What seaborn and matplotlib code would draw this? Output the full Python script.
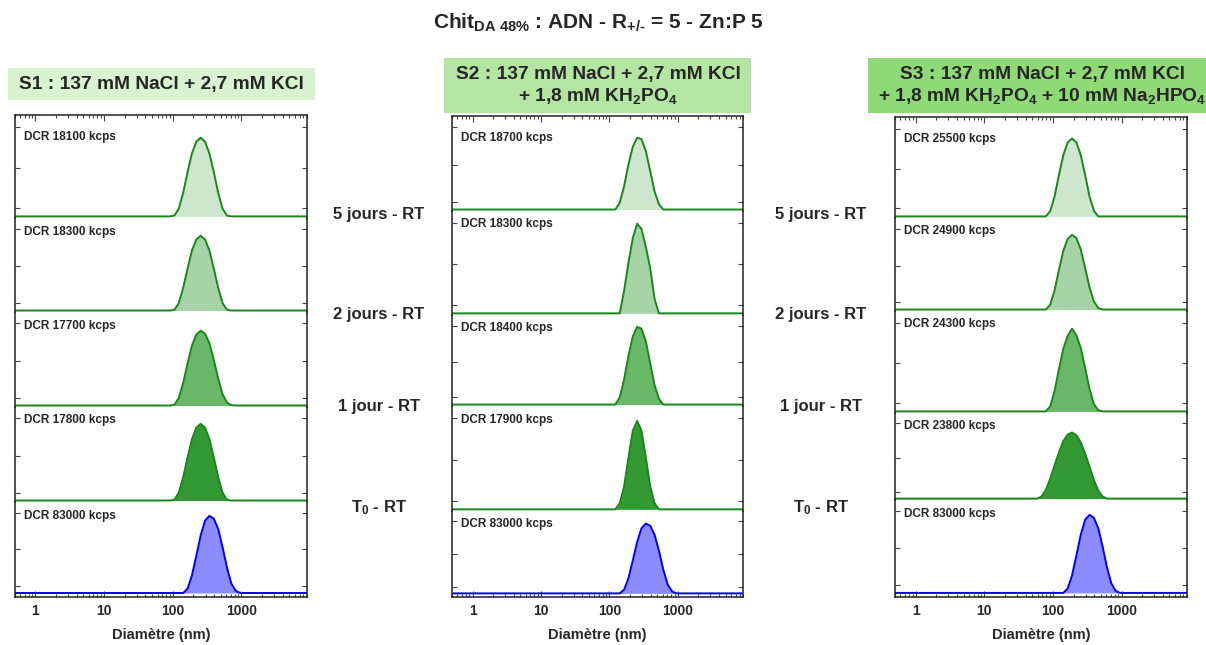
import matplotlib.pyplot as plt
import seaborn as sns
from matplotlib.patches import Rectangle
from matplotlib.ticker import NullFormatter

# DLS size classes (nm) around the peaks + ends of the measured range
diam = [0.4, 58.77, 68.06, 78.82, 91.28, 105.7, 122.4, 141.8, 164.2, 190.1, 220.2,
        255.0, 295.3, 342.0, 396.1, 458.7, 531.2, 615.1, 712.4, 825.0, 955.4, 1106, 10000]

# intensity (%) per size class - S1 : NaCl + KCl
s1_5j = [0, 0, 0, 0, 0, 0.2, 1.9, 5.8, 10.9, 15.5, 18.4, 19.4, 18.4, 15.5, 10.9, 5.8, 1.9, 0.2, 0, 0, 0, 0, 0]
s1_2j = [0, 0, 0, 0, 0, 0.2, 2.0, 6.1, 11.3, 16.2, 19.2, 20.2, 19.2, 16.2, 11.3, 6.1, 2.0, 0.2, 0, 0, 0, 0, 0]
s1_1j = [0, 0, 0, 0, 0, 0.2, 2.0, 6.0, 11.2, 16.0, 19.0, 20.0, 19.2, 16.6, 12.2, 7.2, 3.0, 0.8, 0.1, 0, 0, 0, 0]
s1_t0 = [0, 0, 0, 0, 0, 0.2, 2.1, 6.2, 11.5, 16.4, 19.5, 20.5, 19.5, 16.4, 11.5, 6.2, 2.1, 0.2, 0, 0, 0, 0, 0]

# S2 : + KH2PO4
s2_5j = [0, 0, 0, 0, 0, 0, 0, 1.8, 6.2, 12.0, 16.8, 19.2, 18.8, 15.6, 10.2, 4.8, 1.4, 0, 0, 0, 0, 0, 0]
s2_2j = [0, 0, 0, 0, 0, 0, 0, 0, 5.5, 12.3, 18.4, 21.9, 20.6, 16.2, 11.0, 3.5, 0, 0, 0, 0, 0, 0, 0]
s2_1j = [0, 0, 0, 0, 0, 0, 0, 2.0, 7.0, 13.6, 19.0, 21.7, 21.2, 17.6, 11.5, 5.4, 1.6, 0, 0, 0, 0, 0, 0]
s2_t0 = [0, 0, 0, 0, 0, 0, 0, 1.5, 5.5, 12.5, 19.0, 21.4, 19.0, 12.5, 5.5, 1.5, 0, 0, 0, 0, 0, 0, 0]

# S3 : + KH2PO4 + Na2HPO4
s3_5j = [0, 0, 0, 0, 1.3, 5.0, 10.4, 15.4, 18.6, 19.6, 18.6, 15.4, 10.4, 5.0, 1.4, 0, 0, 0, 0, 0, 0, 0, 0]
s3_2j = [0, 0, 0, 0, 1.3, 5.2, 10.8, 16.0, 19.3, 20.4, 19.5, 16.4, 11.3, 6.0, 2.2, 0.4, 0, 0, 0, 0, 0, 0, 0]
s3_1j = [0, 0, 0, 0, 1.2, 5.0, 10.5, 15.6, 18.8, 20.6, 18.9, 15.8, 10.8, 5.6, 1.8, 0.3, 0, 0, 0, 0, 0, 0, 0]
s3_t0 = [0, 0, 0.6, 2.5, 5.8, 9.7, 13.5, 16.8, 18.7, 19.3, 18.5, 16.4, 13.1, 9.3, 5.4, 2.3, 0.6, 0, 0, 0, 0, 0, 0]

# polyplex alone, before dilution in the saline buffers
s1_ref = [0, 0, 0, 0, 0, 0, 0, 0, 1.2, 4.8, 10.2, 15.8, 19.9, 21.2, 20.4, 17.6, 12.6, 7.0, 2.6, 0.6, 0, 0, 0]
s2_ref = [0, 0, 0, 0, 0, 0, 0, 0, 1.1, 4.6, 10.0, 15.6, 19.8, 21.2, 20.5, 17.8, 12.9, 7.2, 2.7, 0.6, 0, 0, 0]
s3_ref = [0, 0, 0, 0, 0, 0, 0, 0, 1.2, 4.7, 10.1, 15.7, 19.7, 21.0, 20.2, 17.4, 12.4, 6.8, 2.5, 0.5, 0, 0, 0]

dcr_s1 = [18100, 18300, 17700, 17800, 83000]
dcr_s2 = [18700, 18300, 18400, 17900, 83000]
dcr_s3 = [25500, 24900, 24300, 23800, 83000]

row_labels = ["5 jours - RT", "2 jours - RT", "1 jour - RT", r"T$_0$ - RT"]
headers = ["S1 : 137 mM NaCl + 2,7 mM KCl",
           "S2 : 137 mM NaCl + 2,7 mM KCl\n+ 1,8 mM KH$_2$PO$_4$",
           "S3 : 137 mM NaCl + 2,7 mM KCl\n+ 1,8 mM KH$_2$PO$_4$ + 10 mM Na$_2$HPO$_4$"]

curves = [[s1_5j, s1_2j, s1_1j, s1_t0, s1_ref],
          [s2_5j, s2_2j, s2_1j, s2_t0, s2_ref],
          [s3_5j, s3_2j, s3_1j, s3_t0, s3_ref]]
dcrs = [dcr_s1, dcr_s2, dcr_s3]

fills = ["#cde6cd", "#a6d4a6", "#68b868", "#339a33", "#8c8cff"]
edges = ["#17871a", "#17871a", "#17871a", "#17871a", "#0000ff"]
box_cols = ["#d9f2d0", "#b4e5a2", "#8fd977"]

sns.set_style("ticks")
plt.rcParams["font.family"] = ["Liberation Sans", "DejaVu Sans"]
plt.rcParams["font.weight"] = "bold"
plt.rcParams["mathtext.fontset"] = "custom"
plt.rcParams["mathtext.rm"] = "Liberation Sans:bold"
plt.rcParams["mathtext.it"] = "Liberation Sans:bold"
plt.rcParams["mathtext.bf"] = "Liberation Sans:bold"

W, H = 1206, 645
fig = plt.figure(figsize=(W / 100, H / 100), dpi=100)

# panel frames in pixels (left/right per column, stacked edges top->bottom)
col_x = [(14.7, 307), (452, 743), (895, 1187)]
col_y = [[115, 218, 312, 407, 502, 597],
         [116, 211, 315, 406, 511, 597],
         [117, 218, 311, 413, 500, 597]]

for c in range(3):
    x0, x1 = col_x[c]
    for r in range(5):
        top, bot = col_y[c][r], col_y[c][r + 1]
        ax = fig.add_axes([x0 / W, 1 - bot / H, (x1 - x0) / W, (bot - top) / H])
        ax.patch.set_visible(False)
        ax.set_xscale("log")
        y = curves[c][r]
        ax.fill_between(diam, y, color=fills[r], lw=0)
        sns.lineplot(x=diam, y=y, ax=ax, color=edges[r], lw=1.4, sort=False)
        ax.set_xlim(0.5, 9000)
        ax.set_ylim(-0.4 if r < 4 else -1.1, 25)
        ax.set_yticks([2, 12, 22])
        ax.set_xticks([1, 10, 100, 1000], labels=["1", "10", "100", "1000"])
        ax.xaxis.set_minor_formatter(NullFormatter())
        for s in ax.spines.values():
            s.set_color("#222222")
            s.set_linewidth(1.1)
        ax.spines["top"].set_visible(r == 0)
        ax.spines["bottom"].set_visible(r == 4)
        ax.tick_params(axis="y", direction="in", left=True, right=True,
                       labelleft=False, length=3.5, width=0.8, color="#444444")
        ax.tick_params(axis="x", which="both", direction="in", bottom=(r == 4), top=(r == 0),
                       labelbottom=(r == 4), color="#444444", width=0.8)
        ax.tick_params(axis="x", which="major", length=4, labelsize=10, pad=5)
        ax.tick_params(axis="x", which="minor", length=2)
        ax.set_ylabel("")
        ax.set_xlabel("Diamètre (nm)" if r == 4 else "", fontsize=10.5, fontweight="bold", labelpad=7)
        ax.annotate(f"DCR {dcrs[c][r]} kcps", xy=(0, 1), xycoords="axes fraction",
                    xytext=(9, -22 if r == 0 else -13.5), textcoords="offset pixels",
                    fontsize=8.5, fontweight="bold", va="center")

# solvent headers
boxes = [(8, 68, 315, 100), (444, 58, 751, 113), (868, 58, 1206, 113)]
centers = [(161, 84), (598, 86), (1042, 86)]
for (bx0, by0, bx1, by1), (tx, ty), col, txt in zip(boxes, centers, box_cols, headers):
    fig.add_artist(Rectangle((bx0 / W, 1 - by1 / H), (bx1 - bx0) / W, (by1 - by0) / H,
                             transform=fig.transFigure, color=col, lw=0, zorder=0))
    fig.text(tx / W, 1 - ty / H, txt, ha="center", va="center", multialignment="center",
             fontsize=13.8, fontweight="bold", linespacing=1.15)

# time labels between the columns
row_y = [215, 314, 406, 508]
for lx in [379, 821]:
    for lab, ly in zip(row_labels, row_y):
        fig.text(lx / W, 1 - ly / H, lab, ha="center", va="center", fontsize=12, fontweight="bold")

fig.text(598 / W, 1 - 23 / H, "Chit$_{DA\\ 48\\%}$ : ADN - R$_{+/\u2010}$ = 5 - Zn:P 5",
         ha="center", va="center", fontsize=15, fontweight="bold")

fig.savefig("out.png", dpi=100)
